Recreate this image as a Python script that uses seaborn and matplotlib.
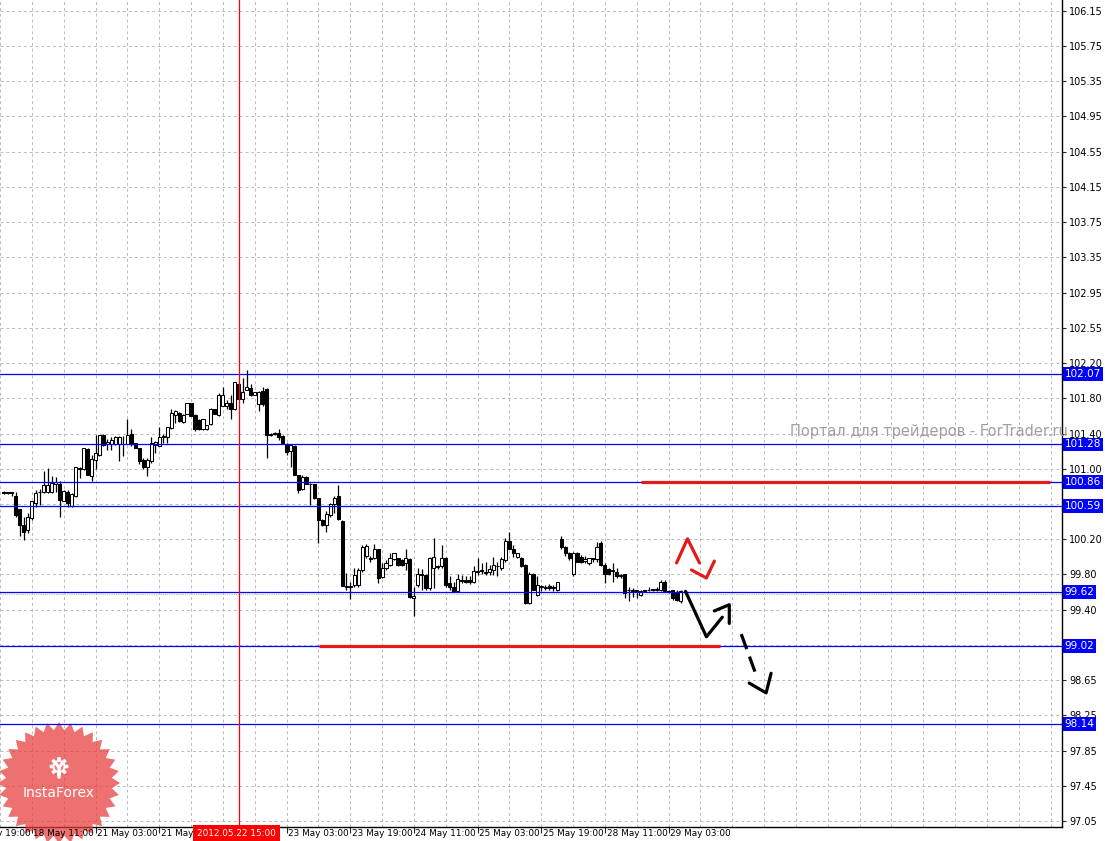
import numpy as np
import pandas as pd
import matplotlib
matplotlib.use("Agg")
import matplotlib.pyplot as plt
import matplotlib.transforms as mtransforms
from matplotlib.patches import Polygon, Circle
import seaborn as sns

# H1 candles, 17 May 2012 ... 29 May 2012
opens = [100.73, 100.73, 100.74, 100.70, 100.55, 100.37, 100.32, 100.45, 100.62, 100.74,
         100.74, 100.75, 100.74, 100.84, 100.83, 100.65, 100.75, 100.59, 100.70, 101.01,
         101.00, 101.23, 100.92, 101.11, 101.16, 101.39, 101.28, 101.28, 101.28, 101.28,
         101.29, 101.29, 101.40, 101.30, 101.24, 101.11, 101.03, 101.09, 101.27, 101.26,
         101.36, 101.36, 101.46, 101.61, 101.63, 101.53, 101.62, 101.74, 101.61, 101.55,
         101.45, 101.45, 101.51, 101.68, 101.61, 101.71, 101.71, 101.74, 101.68, 101.96,
         101.79, 101.89, 101.91, 101.84, 101.73, 101.88, 101.90, 101.40, 101.40, 101.41,
         101.37, 101.28, 101.21, 101.26, 100.94, 100.78, 100.91, 100.84, 100.83, 100.68,
         100.43, 100.37, 100.49, 100.61, 100.70, 100.42, 99.69, 99.68, 99.70, 99.70,
         99.87, 100.03, 100.01, 100.00, 100.10, 99.79, 99.89, 99.93, 99.99, 100.00,
         99.98, 99.95, 99.99, 99.56, 99.70, 99.83, 99.81, 99.67, 99.89, 99.90,
         99.91, 100.01, 99.72, 99.68, 99.63, 99.75, 99.76, 99.76, 99.73, 99.85,
         99.86, 99.85, 99.85, 99.87, 99.91, 99.89, 99.98, 100.19, 100.11, 100.02,
         100.01, 99.93, 99.50, 99.83, 99.59, 99.68, 99.67, 99.69, 99.67, 99.64,
         100.22, 100.13, 100.06, 99.83, 100.06, 100.02, 99.97, 99.95, 99.99, 99.99,
         100.17, 99.93, 99.88, 99.86, 99.85, 99.80, 99.83, 99.64, 99.64, 99.63,
         99.59, 99.63, 99.64, 99.65, 99.65, 99.64, 99.74, 99.63, 99.64, 99.62,
         99.52]
highs = [100.76, 100.75, 100.75, 100.75, 100.55, 100.47, 100.51, 100.64, 100.77, 100.78,
         100.98, 101.01, 100.92, 100.91, 100.87, 100.77, 100.77, 100.73, 101.03, 101.03,
         101.24, 101.24, 101.16, 101.38, 101.39, 101.40, 101.34, 101.36, 101.37, 101.37,
         101.37, 101.56, 101.45, 101.30, 101.24, 101.13, 101.13, 101.36, 101.32, 101.48,
         101.40, 101.48, 101.68, 101.67, 101.64, 101.62, 101.74, 101.74, 101.62, 101.56,
         101.56, 101.50, 101.69, 101.68, 101.86, 101.93, 101.78, 101.83, 101.98, 101.97,
         102.03, 102.11, 101.96, 101.87, 101.88, 101.92, 101.91, 101.41, 101.42, 101.45,
         101.38, 101.30, 101.28, 101.27, 100.94, 100.94, 100.92, 100.85, 100.84, 100.68,
         100.44, 100.53, 100.62, 100.70, 100.82, 100.43, 99.84, 99.74, 99.89, 99.89,
         100.15, 100.16, 100.03, 100.16, 100.11, 99.95, 99.98, 100.06, 100.06, 100.01,
         99.99, 100.10, 100.00, 99.68, 99.89, 99.88, 99.82, 100.02, 100.23, 99.93,
         100.15, 100.02, 99.80, 99.74, 99.83, 99.81, 99.80, 99.80, 99.91, 100.00,
         99.95, 99.96, 99.93, 100.02, 99.96, 100.02, 100.23, 100.30, 100.15, 100.06,
         100.02, 99.94, 99.85, 99.84, 99.80, 99.70, 99.70, 99.71, 99.70, 99.74,
         100.25, 100.14, 100.07, 100.07, 100.07, 100.04, 100.03, 100.01, 100.01, 100.18,
         100.19, 99.95, 99.89, 99.95, 99.89, 99.83, 99.83, 99.68, 99.67, 99.65,
         99.64, 99.64, 99.68, 99.66, 99.68, 99.76, 99.76, 99.64, 99.65, 99.65,
         99.64]
lows = [100.72, 100.72, 100.70, 100.47, 100.25, 100.21, 100.29, 100.43, 100.58, 100.60,
        100.73, 100.73, 100.73, 100.74, 100.47, 100.64, 100.58, 100.58, 100.69, 100.90,
        100.99, 100.94, 100.87, 101.00, 101.15, 101.26, 101.22, 101.22, 101.27, 101.09,
        101.15, 101.28, 101.26, 101.24, 101.06, 101.00, 100.92, 101.07, 101.18, 101.26,
        101.30, 101.30, 101.45, 101.52, 101.53, 101.52, 101.62, 101.60, 101.43, 101.44,
        101.44, 101.44, 101.50, 101.62, 101.60, 101.71, 101.68, 101.56, 101.67, 101.79,
        101.75, 101.89, 101.82, 101.83, 101.66, 101.71, 101.13, 101.37, 101.39, 101.33,
        101.29, 101.16, 101.03, 100.94, 100.73, 100.77, 100.84, 100.60, 100.67, 100.17,
        100.36, 100.30, 100.47, 100.51, 100.43, 99.69, 99.65, 99.54, 99.68, 99.68,
        99.85, 100.00, 99.96, 99.99, 99.72, 99.78, 99.87, 99.91, 99.98, 99.92,
        99.92, 99.87, 99.55, 99.35, 99.68, 99.65, 99.64, 99.64, 99.67, 99.88,
        99.89, 99.68, 99.65, 99.62, 99.62, 99.72, 99.72, 99.71, 99.72, 99.81,
        99.83, 99.81, 99.81, 99.81, 99.80, 99.87, 99.96, 100.10, 100.02, 100.00,
        99.90, 99.49, 99.49, 99.64, 99.58, 99.63, 99.65, 99.65, 99.63, 99.63,
        100.11, 100.03, 99.98, 99.80, 99.96, 99.95, 99.95, 99.93, 99.96, 99.96,
        99.91, 99.72, 99.81, 99.74, 99.78, 99.78, 99.55, 99.52, 99.57, 99.55,
        99.58, 99.62, 99.63, 99.63, 99.63, 99.63, 99.62, 99.61, 99.53, 99.52,
        99.50]
closes = [100.74, 100.74, 100.73, 100.49, 100.37, 100.30, 100.47, 100.64, 100.73, 100.75,
          100.82, 100.82, 100.85, 100.86, 100.66, 100.76, 100.62, 100.72, 101.03, 101.00,
          101.24, 100.94, 101.12, 101.18, 101.39, 101.27, 101.31, 101.33, 101.36, 101.36,
          101.28, 101.39, 101.28, 101.24, 101.09, 101.03, 101.11, 101.30, 101.31, 101.36,
          101.37, 101.48, 101.63, 101.65, 101.54, 101.61, 101.74, 101.60, 101.45, 101.45,
          101.56, 101.50, 101.68, 101.62, 101.83, 101.83, 101.75, 101.68, 101.98, 101.79,
          101.87, 101.93, 101.84, 101.87, 101.87, 101.73, 101.39, 101.38, 101.41, 101.36,
          101.29, 101.20, 101.27, 100.94, 100.77, 100.91, 100.84, 100.83, 100.68, 100.43,
          100.37, 100.50, 100.61, 100.68, 100.44, 99.69, 99.68, 99.69, 99.81, 99.87,
          100.13, 100.14, 99.99, 100.10, 99.78, 99.89, 99.95, 100.00, 100.06, 99.93,
          99.93, 100.00, 99.57, 99.58, 99.83, 99.81, 99.67, 100.01, 100.02, 99.92,
          100.01, 99.70, 99.68, 99.63, 99.77, 99.76, 99.74, 99.73, 99.86, 99.86,
          99.87, 99.84, 99.88, 99.93, 99.92, 99.99, 100.19, 100.10, 100.06, 100.06,
          99.91, 99.50, 99.83, 99.65, 99.70, 99.69, 99.68, 99.67, 99.68, 99.74,
          100.13, 100.06, 100.00, 100.06, 99.96, 99.96, 99.99, 100.00, 100.00, 100.13,
          99.93, 99.83, 99.83, 99.87, 99.80, 99.81, 99.61, 99.65, 99.63, 99.64,
          99.63, 99.64, 99.65, 99.65, 99.66, 99.74, 99.63, 99.62, 99.55, 99.53,
          99.63]

# price scale labels (two of them sit under level boxes and are not shown)
price_labels = ["97.05", "97.45", "97.85", "98.25", "98.65", "", "99.40", "99.80",
                "100.20", "", "101.00", "101.40", "101.80", "102.20", "102.55",
                "102.95", "103.35", "103.75", "104.15", "104.55", "104.95", "105.35",
                "105.75", "106.15"]
level_prices = [102.07, 101.28, 100.86, 100.59, 99.62, 99.02, 98.14]
bid_price = 99.60

time_bars = [-9, 7, 23, 39, 71, 87, 103, 119, 135, 151, 167]
time_labels = ["17 May 19:00", "18 May 11:00", "21 May 03:00", "21 May 19:00",
               "23 May 03:00", "23 May 19:00", "24 May 11:00", "25 May 03:00",
               "25 May 19:00", "28 May 11:00", "29 May 03:00"]
cursor_bar = 59
cursor_label = "2012.05.22 15:00"

# thick red zones: (start bar, end bar, price)
red_zones = [(160, 262.75, 100.86), (79.25, 180, 99.02)]

# hand drawn forecast arrows (bar, price)
black_path_x = [171.25, 176.5, 180.5]
black_path_y = [99.63, 99.12, 99.34]
black_head_x = [178.5, 182.25, 182.25]
black_head_y = [99.41, 99.48, 99.27]
dash_x = [185.25, 189.25]
dash_y = [99.15, 98.66]
dash_head_x = [187.25, 191.5, 192.75]
dash_head_y = [98.60, 98.49, 98.71]
red_up_x = [169, 171.75, 174.75]
red_up_y = [99.95, 100.22, 99.95]
red_down_x = [172.75, 176.5, 178.5]
red_down_y = [99.87, 99.78, 99.97]

sns.set_style("white")
plt.rcParams["font.family"] = ["DejaVu Sans"]

df = pd.DataFrame({"open": opens, "high": highs, "low": lows, "close": closes})
df["bar"] = np.arange(len(df))
df["up"] = df["close"] >= df["open"]

fig = plt.figure(figsize=(11.05, 8.41), dpi=100)
ax = fig.add_axes([0, 14 / 841, 1062 / 1105, 827 / 841])
ax.set_facecolor("white")

ax.set_xlim(0.35, 265.85)
ax.set_ylim(96.984, 106.27)

# grid
grid_pos = np.linspace(97.05, 106.15, len(price_labels))
ax.yaxis.tick_right()
ax.set_yticks(grid_pos)
ax.set_yticklabels(price_labels, fontsize=7, color="black")
ax.set_xticks([b for b in time_bars if b > 0] + [55])
ax.set_xticklabels([])
ax.set_xticks(np.arange(-1, 266, 8), minor=True)
ax.grid(True, which="both", linestyle=(0, (3, 3)), color="#b5bdb5", linewidth=0.7, zorder=0)
ax.tick_params(axis="y", which="both", direction="out", length=3, width=0.8, pad=2,
               right=True, left=False)
ax.tick_params(axis="x", which="major", direction="out", length=4, width=0.8, bottom=True)
ax.tick_params(axis="x", which="minor", length=0)
for s in ["top", "left"]:
    ax.spines[s].set_visible(False)
for s in ["right", "bottom"]:
    ax.spines[s].set_color("black")
    ax.spines[s].set_linewidth(1)

# candles
ax.vlines(df["bar"], df["low"], df["high"], color="black", linewidth=0.9, zorder=3)
body_bottom = np.minimum(df["open"], df["close"])
body_height = np.maximum(np.abs(df["close"] - df["open"]), 0.008)
ax.bar(df["bar"], body_height, bottom=body_bottom, width=0.78,
       color=np.where(df["up"], "white", "black"), edgecolor="black",
       linewidth=0.75, zorder=3.2)

# levels
for p in level_prices:
    ax.axhline(p, color="#0000ff", linewidth=0.9, zorder=4)
ax.axhline(bid_price, color="#c8b8b8", linewidth=0.8, linestyle=(0, (1, 1)), zorder=2)
for x0, x1, p in red_zones:
    ax.plot([x0, x1], [p, p], color="#e41b1b", linewidth=2.3, solid_capstyle="butt", zorder=4.5)
ax.axvline(cursor_bar, color="#ff0000", linewidth=0.9, zorder=4.2)

# forecast arrows
sns.lineplot(x=black_path_x, y=black_path_y, sort=False, estimator=None, color="black",
             linewidth=2.3, ax=ax, zorder=5)
sns.lineplot(x=black_head_x, y=black_head_y, sort=False, estimator=None, color="black",
             linewidth=2.3, ax=ax, zorder=5)
sns.lineplot(x=dash_x, y=dash_y, sort=False, estimator=None, color="black",
             linewidth=2.3, linestyle=(0, (5, 2.5)), ax=ax, zorder=5)
sns.lineplot(x=dash_head_x, y=dash_head_y, sort=False, estimator=None, color="black",
             linewidth=2.3, ax=ax, zorder=5)
sns.lineplot(x=red_up_x, y=red_up_y, sort=False, estimator=None, color="#e41b1b",
             linewidth=2.3, ax=ax, zorder=5)
sns.lineplot(x=red_down_x, y=red_down_y, sort=False, estimator=None, color="#e41b1b",
             linewidth=2.3, ax=ax, zorder=5)
ax.set_xlabel("")
ax.set_ylabel("")

# level labels on the price scale
ybl = mtransforms.blended_transform_factory(ax.transAxes, ax.transData)
for p in level_prices:
    ax.text(1.0025, p, f"{p:.2f}", transform=ybl, ha="left", va="center",
            fontsize=7.5, color="white", clip_on=False, zorder=10,
            bbox=dict(boxstyle="square,pad=0.18", fc="#0000ff", ec="none"))

# time labels
xbl = ax.get_xaxis_transform()
for b, lab in zip(time_bars, time_labels):
    ax.text(b + 0.4, -0.003, lab, transform=xbl, ha="left", va="top",
            fontsize=6.4, color="black", clip_on=False, zorder=6)
ax.text(cursor_bar - 0.5, -0.003, cursor_label, transform=xbl, ha="center", va="top",
        fontsize=6.4, color="white", clip_on=False, zorder=7,
        bbox=dict(boxstyle="square,pad=0.45", fc="#ff0000", ec="none"))

# watermark
ax.text(790 / 1062, 101.42, "Портал для трейдеров - ForTrader.ru", transform=ybl,
        ha="left", va="center", fontsize=10.5, color="#a89c9c", clip_on=False, zorder=3.5)

# InstaForex badge
ang = np.linspace(0, 2 * np.pi, 64, endpoint=False)
rad = np.where(np.arange(64) % 2 == 0, 0.61, 0.53)
star = np.column_stack([0.59 + rad * np.sin(ang), 0.58 + rad * np.cos(ang)])
ax.add_patch(Polygon(star, closed=True, transform=fig.dpi_scale_trans, fc="#e83a3a",
                     ec="none", alpha=0.72, clip_on=False, zorder=2.7))
gear = []
for i in range(8):
    c = i * np.pi / 4
    for da, r in [(-0.3, 0.065), (-0.17, 0.095), (0.17, 0.095), (0.3, 0.065)]:
        gear.append((0.59 + r * np.sin(c + da), 0.745 + r * np.cos(c + da)))
ax.add_patch(Polygon(gear, closed=True, transform=fig.dpi_scale_trans, fc="white",
                     ec="none", clip_on=False, zorder=2.8))
ax.add_patch(Circle((0.59, 0.745), 0.045, transform=fig.dpi_scale_trans, fc="#ef7a7a",
                    ec="none", clip_on=False, zorder=2.9))
ax.plot([0.555, 0.59, 0.625], [0.78, 0.735, 0.78], color="white", linewidth=2.2,
        transform=fig.dpi_scale_trans, clip_on=False, zorder=2.95)
ax.plot([0.59, 0.59], [0.735, 0.64], color="white", linewidth=2.6,
        transform=fig.dpi_scale_trans, clip_on=False, zorder=2.95)
ax.text(0.59, 0.48, "InstaForex", transform=fig.dpi_scale_trans, ha="center", va="center",
        fontsize=10, color="white", clip_on=False, zorder=3)

fig.savefig("out.png", dpi=100)
